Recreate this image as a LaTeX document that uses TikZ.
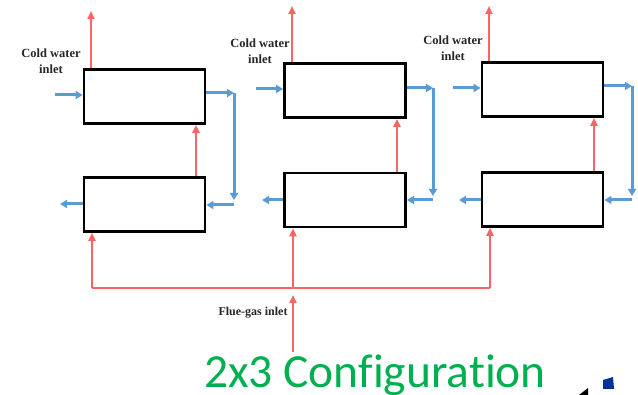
\documentclass[tikz,border=0pt]{standalone}
\usepackage{fontspec}
\setmainfont{Liberation Serif}
\newfontfamily\calib[Ligatures=NoCommon]{Carlito}
\usetikzlibrary{arrows.meta}
\definecolor{wblue}{RGB}{91,155,213}
\definecolor{gred}{RGB}{250,100,100}
\definecolor{cgreen}{RGB}{0,176,80}
\definecolor{logoblue}{RGB}{0,51,153}
\tikzset{
  hx/.style={draw=black, line width=2.8pt, fill=white, minimum width=121pt, minimum height=54pt, inner sep=0pt},
  gas/.style={draw=gred, line width=2.3pt, -{Triangle[length=8pt,width=7pt]}},
  gasline/.style={draw=gred, line width=2.3pt},
  water/.style={draw=wblue, line width=3pt, -{Triangle[length=7pt,width=8pt]}},
  lbl/.style={font=\bfseries\fontsize{12.5}{16}\selectfont, align=center, text=black!85, inner sep=0pt},
}
\begin{document}
\begin{tikzpicture}[x=1pt,y=-1pt]
\useasboundingbox (0,0) rectangle (638,395);
% boxes
\node[hx] (t1) at (144.5,96.5) {};
\node[hx] (b1) at (144.5,204.5) {};
\node[hx] (t2) at (345,90.5) {};
\node[hx] (b2) at (345,200) {};
\node[hx] (t3) at (542.5,89.5) {};
\node[hx] (b3) at (542.5,199.5) {};
% labels
\node[lbl] (l1) at (51,61) {Cold water\\inlet};
\node[lbl] (l2) at (260,51) {Cold water\\inlet};
\node[lbl] (l3) at (453,48) {Cold water\\inlet};
\node[lbl, font=\bfseries\fontsize{12}{14}\selectfont] (lf) at (253,313) {Flue-gas inlet};
\node[text=cgreen, font=\calib\fontsize{47.5}{50}\selectfont, anchor=base, inner sep=0pt] (title) at (375,388) {2x3 Configuration};
% coordinates
\coordinate (o1) at (91,11);
\coordinate (o2) at (292,6);
\coordinate (o3) at (489,6);
\coordinate (i1) at (55,95);
\coordinate (i2) at (256,89);
\coordinate (i3) at (453,88);
\coordinate (r1a) at (234,93);
\coordinate (r1b) at (234,200);
\coordinate (r1c) at (234,205);
\coordinate (r2a) at (433,88);
\coordinate (r2b) at (433,196);
\coordinate (r2c) at (433,200);
\coordinate (r3a) at (632,86);
\coordinate (r3b) at (632,196);
\coordinate (r3c) at (632,200);
\coordinate (e1) at (60,204);
\coordinate (e2) at (262,200);
\coordinate (e3) at (459,200);
\coordinate (m1) at (92,288);
\coordinate (m2) at (293,288);
\coordinate (m3) at (490,288);
\coordinate (fg) at (293,352);
\coordinate (fgt) at (293,295);
% red outlets on top
\draw[gas] (t1.north -| o1) -- (o1);
\draw[gas] (t2.north -| o2) -- (o2);
\draw[gas] (t3.north -| o3) -- (o3);
% red between boxes
\draw[gas] (b1.north -| 196,0) -- (t1.south -| 196,0);
\draw[gas] (b2.north -| 397,0) -- (t2.south -| 397,0);
\draw[gas] (b3.north -| 594,0) -- (t3.south -| 594,0);
% blue inlets
\draw[water] (i1) -- (t1.west |- i1);
\draw[water] (i2) -- (t2.west |- i2);
\draw[water] (i3) -- (t3.west |- i3);
% blue transfers
\draw[water] (t1.east |- r1a) -- (r1a);
\draw[water] (r1a) -- (r1b);
\draw[water] (r1c) -- (b1.east |- r1c);
\draw[water] (t2.east |- r2a) -- (r2a);
\draw[water] (r2a) -- (r2b);
\draw[water] (r2c) -- (b2.east |- r2c);
\draw[water] (t3.east |- r3a) -- (r3a);
\draw[water] (r3a) -- (r3b);
\draw[water] (r3c) -- (b3.east |- r3c);
% blue outlets
\draw[water] (b1.west |- e1) -- (e1);
\draw[water] (b2.west |- e2) -- (e2);
\draw[water] (b3.west |- e3) -- (e3);
% flue gas manifold
\draw[gasline] (m1) -- (m3);
\draw[gas] (m1) -- (b1.south -| m1);
\draw[gas] (m2) -- (b2.south -| m2);
\draw[gas] (m3) -- (b3.south -| m3);
\draw[gas] (fg) -- (fgt);
% partial logo
\fill[logoblue] (603,380) -- (613,377) -- (614,389) -- (603,389) -- cycle;
\fill[black] (579,395) -- (588,388) -- (588,395) -- cycle;
\end{tikzpicture}
\end{document}
